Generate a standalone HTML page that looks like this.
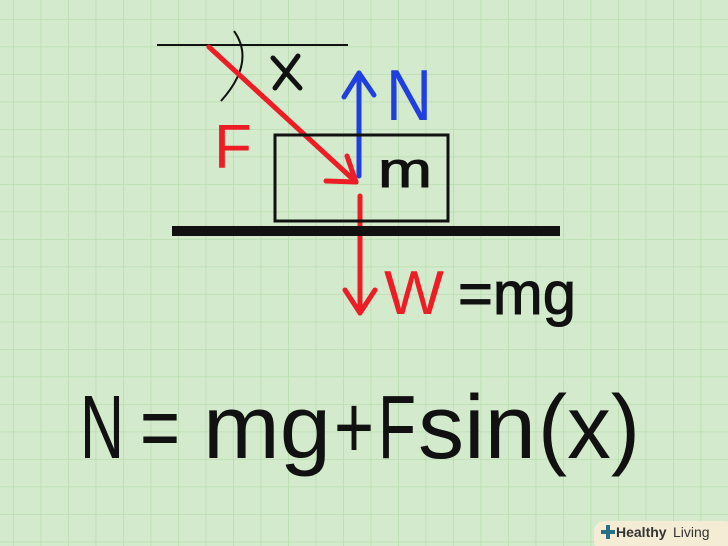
<!DOCTYPE html>
<html><head><style>
html,body{margin:0;padding:0;}
body{width:728px;height:546px;overflow:hidden;background:#d3ebcc;}
svg{display:block}
text{font-family:"Liberation Sans",sans-serif;}
</style></head><body>
<svg width="728" height="546" viewBox="0 0 728 546" xmlns="http://www.w3.org/2000/svg">
<defs>
<pattern id="g" x="13" y="19" width="27.5" height="27.5" patternUnits="userSpaceOnUse">
<path d="M0 0V27.5M0 0H27.5" stroke="#b9dcb1" stroke-width="1.6" fill="none"/>
</pattern>
</defs>
<rect width="728" height="546" fill="#d3ebcc"/>
<rect width="728" height="546" fill="url(#g)"/>
<line x1="157" y1="45" x2="348" y2="45" stroke="#111" stroke-width="2"/>
<path d="M234 31 Q256 62 221 101" stroke="#111" stroke-width="2" fill="none"/>
<g stroke="#ee1c24" stroke-width="5" fill="none" stroke-linecap="round" stroke-linejoin="round">
<line x1="209" y1="47" x2="356" y2="182"/>
<polyline points="326,181 356,182 347,156"/>
<line x1="360" y1="196" x2="360" y2="313"/>
<polyline points="345,290 360,313 375,290"/>
</g>
<g stroke="#1f3fe0" stroke-width="5" fill="none" stroke-linecap="round" stroke-linejoin="round">
<line x1="359" y1="176" x2="359" y2="73"/>
<polyline points="344,97 359,73 374,95"/>
</g>
<rect x="275" y="135" width="173" height="86" fill="none" stroke="#111" stroke-width="3"/>
<rect x="172" y="226" width="388" height="10" fill="#111"/>
<g stroke="#111" stroke-width="5" stroke-linecap="round">
<line x1="273" y1="58" x2="300" y2="88"/>
<line x1="298" y1="56" x2="275" y2="88"/>
</g>
<text x="214" y="168" font-size="62" fill="#ee1c24">F</text>
<text x="386" y="120" font-size="72" fill="#1f3fe0" textLength="46" lengthAdjust="spacingAndGlyphs">N</text>
<text x="378" y="187" font-size="50" fill="#111" stroke="#111" stroke-width="1" textLength="54" lengthAdjust="spacingAndGlyphs">m</text>
<text x="384" y="314" font-size="62" fill="#ee1c24" textLength="60" lengthAdjust="spacingAndGlyphs">W</text>
<text x="458" y="314" font-size="60" fill="#111" stroke="#111" stroke-width="1" textLength="118" lengthAdjust="spacingAndGlyphs">=mg</text>
<g font-size="90" fill="#111">
<text x="80" y="458" textLength="44" lengthAdjust="spacingAndGlyphs">N</text>
<text x="140" y="458" textLength="40" lengthAdjust="spacingAndGlyphs">=</text>
<text x="203" y="458" textLength="128" lengthAdjust="spacingAndGlyphs">mg</text>
<text x="334" y="458" textLength="40" lengthAdjust="spacingAndGlyphs">+</text>
<text x="378" y="458" textLength="38" lengthAdjust="spacingAndGlyphs">F</text>
<text x="418" y="458" textLength="118" lengthAdjust="spacingAndGlyphs">sin</text>
<text x="538" y="458" textLength="102" lengthAdjust="spacingAndGlyphs">(x)</text>
</g>
<rect x="594" y="521" width="140" height="30" rx="10" fill="#f4ecd4"/>
<rect x="601" y="530" width="14" height="4" fill="#2a6f88"/>
<rect x="606" y="525" width="4" height="14" fill="#2a6f88"/>
<text x="616" y="537" font-size="14" font-weight="bold" fill="#333">Healthy</text>
<text x="673" y="537" font-size="14" fill="#333">Living</text>
</svg>
</body></html>
